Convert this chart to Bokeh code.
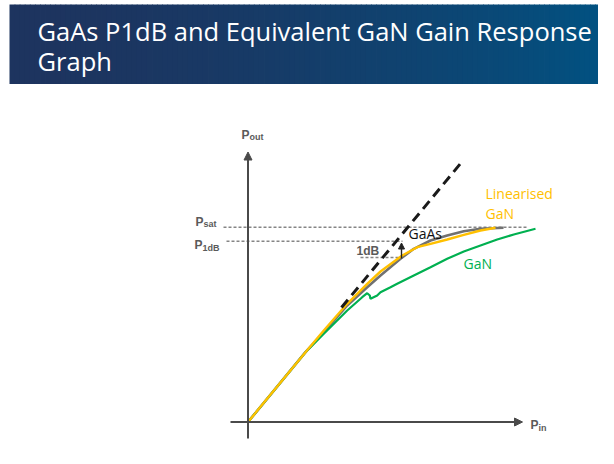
import numpy as np
from bokeh.plotting import figure
from bokeh.models import Range1d, Arrow, NormalHead
from bokeh.core.properties import value
from bokeh.embed import file_html
from bokeh.resources import INLINE

# ---------------- data (diagram units: Pin to the right, Pout upward, origin at axes crossing)
title_lines = ["GaAs P1dB and Equivalent GaN Gain Response", "Graph"]

linear_pin = [93.5, 212.5]
linear_pout = [114.5, 258.5]

gaas_pin = [0, 57.5, 75.8, 99.2, 119.2, 132.5, 152.5, 165.8, 182.5, 199.2, 215.8, 232.5, 255.5]
gaas_pout = [0, 69.8, 89.8, 116.5, 134.8, 146.5, 163.2, 173.2, 181.5, 186.5, 190.8, 193.2, 194.2]

lin_gan_pin = [0, 57.5, 75.8, 99.2, 119.2, 132.5, 154.2, 169.2, 182.5, 199.2, 215.8, 232.5, 247.5]
lin_gan_pout = [0, 69.8, 91.5, 118.2, 138.2, 150.5, 166.5, 174.8, 178.2, 182.5, 187.2, 191.5, 194.2]

gan_pin = [0, 57.5, 75.8, 99.2, 114.2, 119.2, 121.8, 122.5, 129.2, 132.5, 142.5, 149.2, 165.8,
           182.5, 199.2, 215.8, 232.5, 249.2, 265.8, 287.5]
gan_pout = [0, 69.8, 88.2, 111.5, 124.8, 128.8, 126.5, 123.2, 126.5, 129.8, 134.8, 138.2, 146.5,
            154.8, 163.2, 170.5, 176.5, 182.5, 187.5, 193.2]

psat_level = 194.8
p1db_level = 180.8
onedb_level = 164.5
p1db_pin = 154.5

# ---------------- layout (reference pixel coordinates -> diagram units)
W, H = 598, 448
OX, OY = 247.5, 421.5          # axes origin in picture pixels


def px(v):
    return v - OX


def py(v):
    return OY - v


def tb(baseline, size):
    # visual baseline -> position handed to the text glyph
    return py(baseline - 0.43 * size)


p = figure(width=W, height=H, output_backend="svg", toolbar_location=None,
           x_range=Range1d(px(0), px(W)), y_range=Range1d(py(H), py(0)),
           min_border=0, background_fill_color="white", border_fill_color="white")
p.axis.visible = False
p.grid.visible = False
p.outline_line_color = None

# header with gradient
n = 120
edges = np.linspace(9, 620, n + 1)
c0 = np.array([29, 52, 95])
c1 = np.array([0, 83, 131])
cols = []
for i in range(n):
    t = (i + 0.5) / n
    c = c0 + (c1 - c0) * t ** 1.7
    cols.append("#%02x%02x%02x" % tuple(int(round(v)) for v in c))
p.quad(left=[px(e) for e in edges[:-1]], right=[px(e) + 0.8 for e in edges[1:]],
       top=py(4), bottom=py(83.5), fill_color=cols, line_color=None)

TS = 25.5
p.text(x=[px(37), px(37)], y=[tb(41, TS), tb(71, TS)], text=title_lines,
       text_font=value("Open Sans"), text_font_size=f"{TS}px", text_color="white",
       text_baseline="alphabetic", text_align="left")

# reference dotted levels
dot = dict(line_color="#858585", line_width=1.4, line_dash="3 2")
p.line([px(223), px(527)], [psat_level, psat_level], **dot)
p.line([px(226), p1db_pin], [p1db_level, p1db_level], **dot)
p.line([px(360), p1db_pin], [onedb_level, onedb_level], **dot)

# axes
head = dict(size=8, fill_color="#4a4a4a", line_color="#4a4a4a")
p.add_layout(Arrow(end=NormalHead(**head), x_start=0, y_start=py(438),
                   x_end=0, y_end=py(151.5), line_color="#4a4a4a", line_width=2))
p.add_layout(Arrow(end=NormalHead(**head), x_start=px(230), y_start=0,
                   x_end=px(522), y_end=0, line_color="#4a4a4a", line_width=2))

# curves
p.line(gaas_pin, gaas_pout, line_color="#717171", line_width=2.6)
p.line(gan_pin, gan_pout, line_color="#00B050", line_width=2.2)
p.line(lin_gan_pin, lin_gan_pout, line_color="#FFC000", line_width=2.4)
p.line(linear_pin, linear_pout, line_color="#1a1a1a", line_width=3, line_dash="10 6")

# 1dB arrow
p.add_layout(Arrow(end=NormalHead(size=6, fill_color="#222222", line_color="#222222"),
                   x_start=px(401), y_start=onedb_level - 1, x_end=px(401), y_end=py(242.5),
                   line_color="#222222", line_width=1.4))

# axis labels (P with subscript)
lab = dict(text_font=value("Liberation Sans"), text_font_style="bold", text_color="#5a5a5a",
           text_baseline="alphabetic", text_align="left")
p.text(x=[px(241), px(195), px(194), px(530)],
       y=[tb(140, 12), tb(226.5, 12), tb(250, 12), tb(430, 12)],
       text=["P", "P", "P", "P"], text_font_size="12px", **lab)
p.text(x=[px(249), px(203), px(202), px(538)],
       y=[tb(140.5, 9), tb(227.5, 9), tb(251, 9), tb(431, 9)],
       text=["out", "sat", "1dB", "in"], text_font_size="9px", **lab)
p.text(x=[px(356)], y=[tb(255.5, 12)], text=["1dB"], text_font_size="12px", **lab)

# curve labels
cl = dict(text_font=value("Open Sans"), text_font_size="14px",
          text_baseline="alphabetic", text_align="left")
p.text(x=[px(408)], y=[tb(239, 14)], text=["GaAs"], text_color="#111111", **cl)
p.text(x=[px(485), px(485)], y=[tb(199.5, 14), tb(219.5, 14)], text=["Linearised", "GaN"],
       text_color="#FFC000", **cl)
p.text(x=[px(463)], y=[tb(269.5, 14)], text=["GaN"], text_color="#00B050", **cl)

open("out.html", "w").write(file_html(p, INLINE))
